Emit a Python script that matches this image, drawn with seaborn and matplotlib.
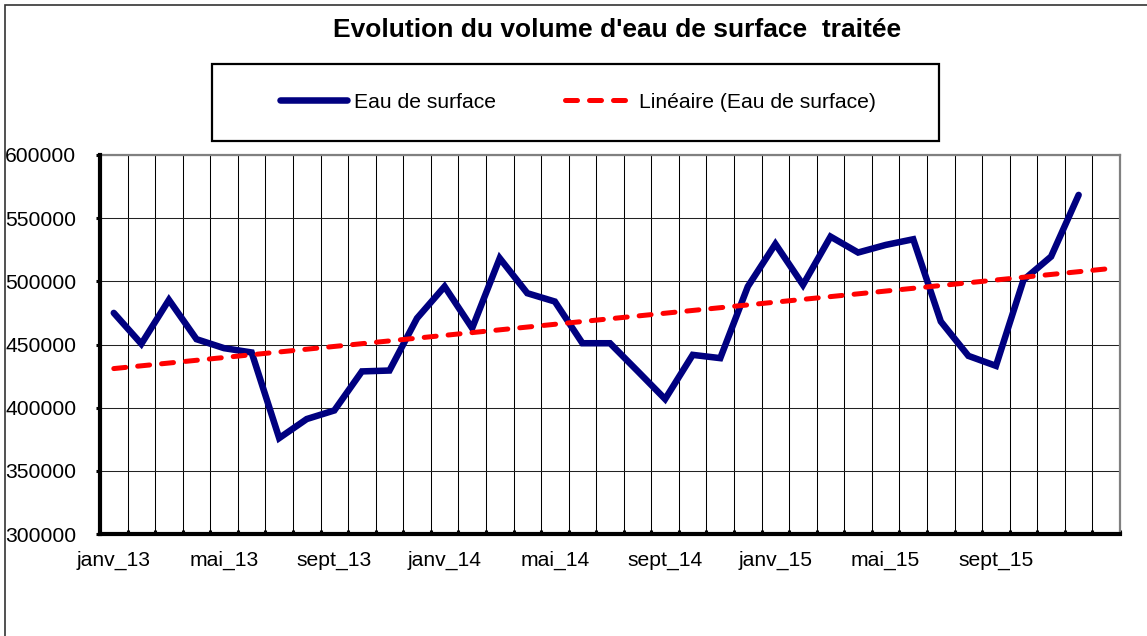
import numpy as np
import pandas as pd
import matplotlib
matplotlib.use("Agg")
import matplotlib.pyplot as plt
from matplotlib.patches import Rectangle
from matplotlib.lines import Line2D
import seaborn as sns

# Monthly volume of treated surface water, January 2013 to December 2015
months = ["janv_13", "févr_13", "mars_13", "avr_13", "mai_13", "juin_13",
          "juil_13", "août_13", "sept_13", "oct_13", "nov_13", "déc_13",
          "janv_14", "févr_14", "mars_14", "avr_14", "mai_14", "juin_14",
          "juil_14", "août_14", "sept_14", "oct_14", "nov_14", "déc_14",
          "janv_15", "févr_15", "mars_15", "avr_15", "mai_15", "juin_15",
          "juil_15", "août_15", "sept_15", "oct_15", "nov_15", "déc_15"]
volumes = [475000, 450500, 485300, 454200, 447100, 443700,
           375900, 391000, 397800, 428700, 429400, 470800,
           495900, 462900, 518300, 490600, 484000, 451000,
           451000, 429000, 406800, 441800, 439200, 495900,
           529600, 497200, 535400, 522800, 528800, 533300,
           468200, 441000, 433100, 501100, 519600, 568400]
tick_labels = ["janv_13", "mai_13", "sept_13", "janv_14", "mai_14",
               "sept_14", "janv_15", "mai_15", "sept_15"]
y_ticks = [300000, 350000, 400000, 450000, 500000, 550000, 600000]

series_name = "Eau de surface"
trend_name = "Linéaire (Eau de surface)"

sns.set_theme(style="white")
plt.rcParams["font.family"] = ["Liberation Sans", "DejaVu Sans"]

W, H = 1147, 636
fig = plt.figure(figsize=(W / 100, H / 100), dpi=100)
ax = fig.add_axes([100 / W, 1 - 534 / H, 1020 / W, 379 / H])

idx = np.arange(len(volumes))
df = pd.DataFrame({"i": idx, "v": volumes})

# Linear trend over the series, projected one period forward
coef = np.polyfit(idx, volumes, 1)
trend_x = np.arange(len(volumes) + 1)
trend_df = pd.DataFrame({"i": trend_x, "v": np.polyval(coef, trend_x)})

trend_style = dict(color="#ff0000", lw=3.6, linestyle=(0, (2.4, 2.4)),
                   dash_capstyle="round")

sns.lineplot(data=df, x="i", y="v", ax=ax, color="#000080", lw=4.7,
             solid_capstyle="round", solid_joinstyle="miter", zorder=4)
sns.lineplot(data=trend_df, x="i", y="v", ax=ax, zorder=5, **trend_style)

n_cat = len(volumes) + 1
ax.set_xlim(-0.5, n_cat - 0.5)
ax.set_ylim(y_ticks[0], y_ticks[-1])
ax.set_xlabel("")
ax.set_ylabel("")

label_pos = [months.index(m) for m in tick_labels]
ax.set_xticks(label_pos)
ax.set_xticklabels(tick_labels)
ax.set_xticks(np.arange(-0.5, n_cat, 1), minor=True)
ax.set_yticks(y_ticks)
ax.set_yticklabels([str(v) for v in y_ticks])

ax.set_axisbelow(True)
ax.grid(which="minor", axis="x", color="black", lw=0.75)
ax.grid(which="major", axis="y", color="#222222", lw=0.75)
ax.grid(which="major", axis="x", visible=False)

ax.tick_params(axis="x", which="major", length=0, pad=12, labelsize=15.2,
               labelcolor="black")
ax.tick_params(axis="x", which="minor", direction="in", length=3, width=2.2,
               color="black", bottom=True)
ax.tick_params(axis="y", which="major", direction="out", length=3, width=2.2,
               color="black", left=True, pad=14, labelsize=15.2,
               labelcolor="black")

for side in ("left", "bottom"):
    ax.spines[side].set_color("black")
    ax.spines[side].set_linewidth(3)
    ax.spines[side].set_zorder(6)
for side in ("top", "right"):
    ax.spines[side].set_color("#808080")
    ax.spines[side].set_linewidth(1.6)
for side in ax.spines:
    ax.spines[side].set_visible(True)

fig.text(617 / W, 1 - 30 / H, "Evolution du volume d'eau de surface  traitée",
         ha="center", va="center", fontsize=19, fontweight="bold",
         color="black")

# Legend frame and entries
fig.add_artist(Rectangle((212 / W, 1 - 141 / H), 727 / W, 77 / H,
                         transform=fig.transFigure, fill=False,
                         edgecolor="black", lw=1.6))
handles = [
    Line2D([], [], color="#000080", lw=4.7, solid_capstyle="round"),
    Line2D([], [], **trend_style),
]
fig.legend(handles, [series_name, trend_name], loc="center",
           bbox_to_anchor=(578 / W, 1 - 102 / H), ncol=2, frameon=False,
           fontsize=15.2, handlelength=3.2, handletextpad=0.3,
           columnspacing=3.3, labelcolor="black")

# Outer chart border
fig.add_artist(Rectangle((5 / W, -0.05), 1.2, 1 - 5 / H + 0.05,
                         transform=fig.transFigure, fill=False,
                         edgecolor="#333333", lw=1.2))

fig.savefig("out.png", dpi=100)
